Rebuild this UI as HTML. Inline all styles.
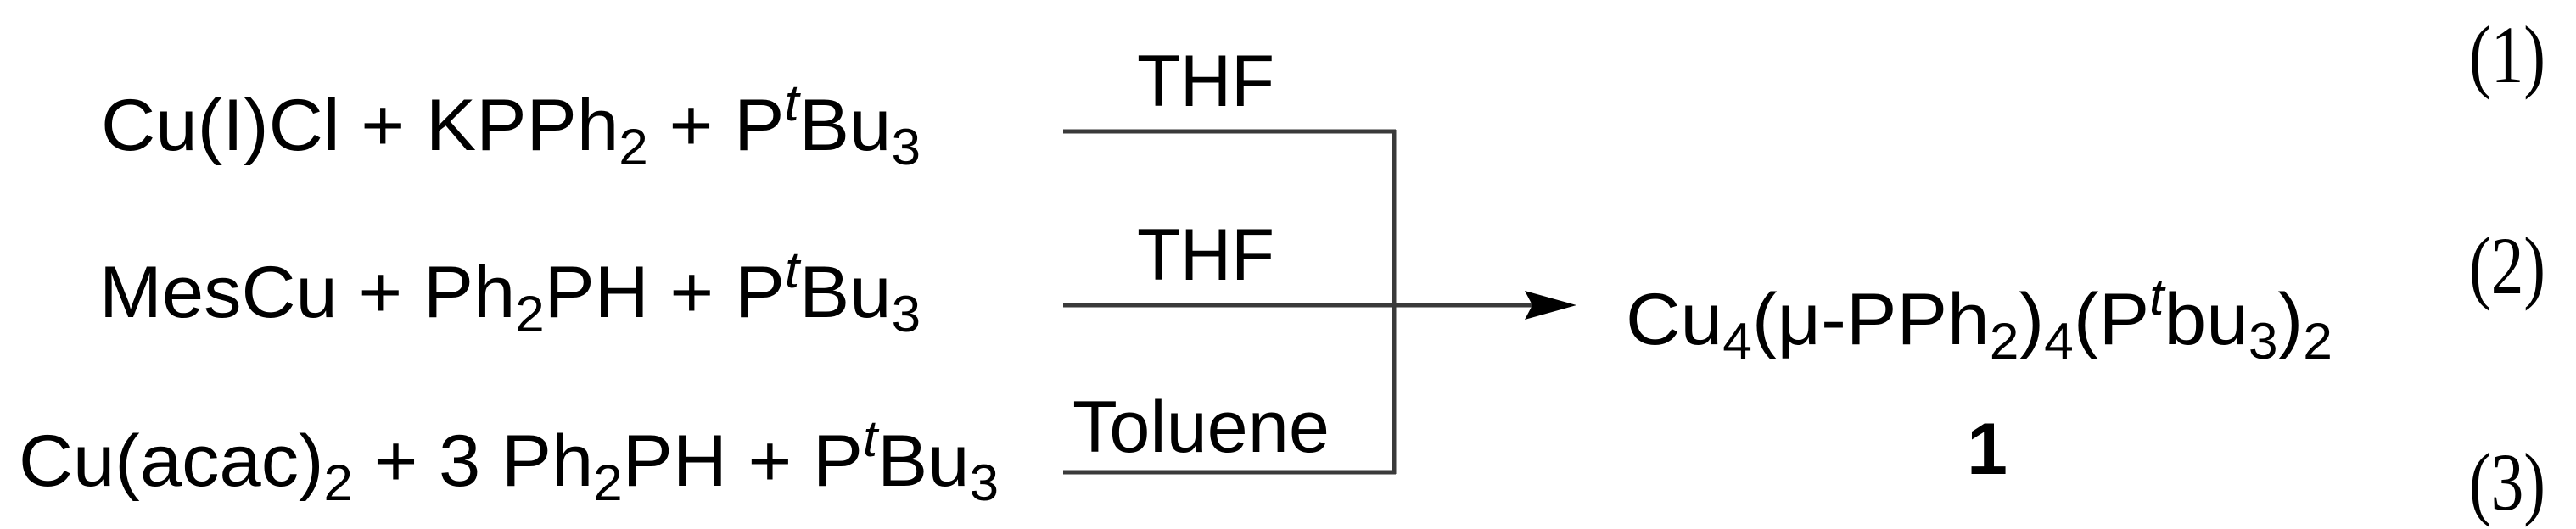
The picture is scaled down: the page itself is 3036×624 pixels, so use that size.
<!DOCTYPE html>
<html><head><meta charset="utf-8"><style>
html,body{margin:0;padding:0;background:#fff;}
svg{display:block;}
text{font-family:"Liberation Sans",sans-serif;fill:#000;}
.s{font-family:"Liberation Serif",serif;}
</style></head><body>
<svg width="3036" height="624" viewBox="0 0 3036 624" xmlns="http://www.w3.org/2000/svg">
<g stroke="#3a3a3a" stroke-width="5" fill="none">
<line x1="1253" y1="155" x2="1645" y2="155"/>
<line x1="1253" y1="360" x2="1805" y2="360"/>
<line x1="1253" y1="557" x2="1645" y2="557"/>
<line x1="1643" y1="153" x2="1643" y2="559"/>
</g>
<polygon points="1797,343 1858,360 1797,377 1806,360" fill="#000"/>

<text x="119" y="177" font-size="86" textLength="966" lengthAdjust="spacingAndGlyphs">Cu(I)Cl + KPPh<tspan font-size="60" dy="17">2</tspan><tspan dy="-17"> + P</tspan><tspan font-size="60" font-style="italic" dy="-35">t</tspan><tspan dy="35">Bu</tspan><tspan font-size="60" dy="17">3</tspan></text>

<text x="117" y="374" font-size="86" textLength="968" lengthAdjust="spacingAndGlyphs">MesCu + Ph<tspan font-size="60" dy="17">2</tspan><tspan dy="-17">PH + P</tspan><tspan font-size="60" font-style="italic" dy="-35">t</tspan><tspan dy="35">Bu</tspan><tspan font-size="60" dy="17">3</tspan></text>

<text x="22" y="573" font-size="86" textLength="1155" lengthAdjust="spacingAndGlyphs">Cu(acac)<tspan font-size="60" dy="17">2</tspan><tspan dy="-17"> + 3 Ph</tspan><tspan font-size="60" dy="17">2</tspan><tspan dy="-17">PH + P</tspan><tspan font-size="60" font-style="italic" dy="-35">t</tspan><tspan dy="35">Bu</tspan><tspan font-size="60" dy="17">3</tspan></text>

<text x="1340" y="125" font-size="86" textLength="162" lengthAdjust="spacingAndGlyphs">THF</text>
<text x="1340" y="330" font-size="86" textLength="162" lengthAdjust="spacingAndGlyphs">THF</text>
<text x="1264" y="533" font-size="86" textLength="303" lengthAdjust="spacingAndGlyphs">Toluene</text>

<text x="1916" y="406" font-size="86" textLength="833" lengthAdjust="spacingAndGlyphs">Cu<tspan font-size="60" dy="17">4</tspan><tspan dy="-17">(μ-PPh</tspan><tspan font-size="60" dy="17">2</tspan><tspan dy="-17">)</tspan><tspan font-size="60" dy="17">4</tspan><tspan dy="-17">(P</tspan><tspan font-size="60" font-style="italic" dy="-35">t</tspan><tspan dy="35">bu</tspan><tspan font-size="60" dy="17">3</tspan><tspan dy="-17">)</tspan><tspan font-size="60" dy="17">2</tspan></text>

<text x="2342" y="559" font-size="86" font-weight="bold" text-anchor="middle">1</text>

<text class="s" x="2910" y="97" font-size="96" textLength="90" lengthAdjust="spacingAndGlyphs">(1)</text>
<text class="s" x="2910" y="346" font-size="96" textLength="90" lengthAdjust="spacingAndGlyphs">(2)</text>
<text class="s" x="2910" y="601" font-size="96" textLength="90" lengthAdjust="spacingAndGlyphs">(3)</text>
</svg>
</body></html>
